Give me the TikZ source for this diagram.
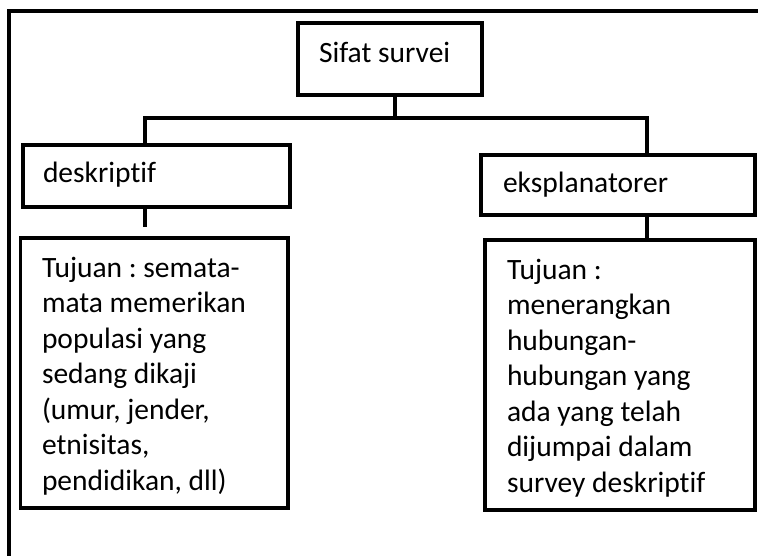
\documentclass[tikz,border=0pt]{standalone}
\usepackage{fontspec}
\setmainfont{Carlito}[Ligatures=NoCommon]
\usetikzlibrary{calc}
\begin{document}
\begin{tikzpicture}[x=1pt,y=-1pt,
  line width=3.6pt, line join=miter,
  box/.style={draw=black, rectangle, inner sep=0pt, outer sep=0pt, anchor=north west},
  txt/.style={inner sep=0pt, outer sep=0pt, font=\fontsize{29.5}{35.5}\selectfont\frenchspacing},
  para/.style={txt, anchor=north west, align=left}]
\useasboundingbox (0,0) rectangle (758,556);

% open outer frame (left and top sides only)
\coordinate (frameBL) at (9,556);
\coordinate (frameTL) at (9,11);
\coordinate (frameTR) at (758,11);
\draw (frameBL) -- (frameTL) -- (frameTR);

% boxes
\node[box, minimum width=184pt, minimum height=72pt]  (sifat) at (298,23)  {};
\node[box, minimum width=267pt, minimum height=62pt]  (desk)  at (23,145)  {};
\node[box, minimum width=274pt, minimum height=60pt]  (eksp)  at (481,155) {};
\node[box, minimum width=267.5pt, minimum height=270pt] (lowL) at (20.5,238) {};
\node[box, minimum width=270pt, minimum height=270pt] (lowR)  at (485,240) {};

% texts
\node[txt, anchor=base west] (sifatT) at ($(sifat.north west)+(21,40)$) {Sifat survei};
\node[txt, anchor=base west] (deskT)  at ($(desk.north west)+(20,38)$)  {deskriptif};
\node[txt, anchor=base west] (ekspT)  at ($(eksp.north west)+(22,38)$)  {eksplanatorer};
\node[para] (lowLT) at ($(lowL.north west)+(21.5,19)$)
  {\rule{0pt}{20pt}Tujuan : semata-\\mata memerikan\\populasi yang\\sedang dikaji\\(umur, jender,\\etnisitas,\\pendidikan, dll)};
\node[para] (lowRT) at ($(lowR.north west)+(22,19)$)
  {\rule{0pt}{20pt}Tujuan :\\menerangkan\\hubungan-\\hubungan yang\\ada yang telah\\dijumpai dalam\\survey deskriptif};

% connectors
\coordinate (busL) at (145,118);
\coordinate (busR) at (647,118);
\coordinate (busM) at (395,118);
\coordinate (deskEnd) at (145,227);
\draw (sifat.south -| busM) -- (busM);
\draw (desk.north -| busL) -- (busL) -- (busR) -- (eksp.north -| busR);
\draw (desk.south -| deskEnd) -- (deskEnd);
\draw (eksp.south -| busR) -- (lowR.north -| busR);
\end{tikzpicture}
\end{document}
